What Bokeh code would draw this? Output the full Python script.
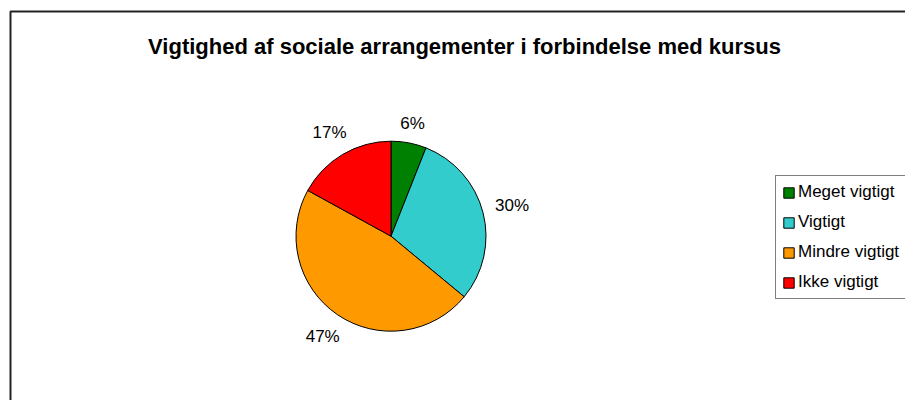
import numpy as np
from bokeh.plotting import figure
from bokeh.models import Legend, LegendItem, ColumnDataSource, Label, BoxAnnotation, Range1d
from bokeh.embed import file_html
from bokeh.resources import INLINE

# ---- data ----
title_text = "Vigtighed af sociale arrangementer i forbindelse med kursus"
categories = ["Meget vigtigt", "Vigtigt", "Mindre vigtigt", "Ikke vigtigt"]
percent = [6, 30, 47, 17]
pct_labels = ["6%", "30%", "47%", "17%"]
colors = ["#008000", "#33CCCC", "#FF9900", "#FF0000"]

FONT = "Liberation Sans"
W, H = 905, 400
p = figure(width=W, height=H, output_backend="svg", toolbar_location=None,
           x_range=Range1d(0, W), y_range=Range1d(0, H), min_border=0, tools="",
           x_axis_location=None, y_axis_location=None)
p.grid.visible = False
p.outline_line_color = None
p.background_fill_color = "white"
p.border_fill_color = "white"

# chart-area border (only the left and top edges fall inside the window)
p.add_layout(BoxAnnotation(left=10, right=W + 60, bottom=-60, top=H - 11,
                           fill_alpha=0, line_color="#222222", line_alpha=1.0,
                           line_width=2))

# pie geometry
cx, cy, r = 390.5, H - 235.7, 95
frac = np.array(percent, dtype=float) / sum(percent)
cum = np.concatenate([[0.0], np.cumsum(frac)])
start = np.pi / 2 - cum[:-1] * 2 * np.pi
end = np.pi / 2 - cum[1:] * 2 * np.pi

src = ColumnDataSource(dict(start=start, end=end, color=colors, cat=categories))
wedges = p.wedge(x=cx, y=cy, radius=r, radius_units="screen", start_angle="start",
                 end_angle="end", direction="clock", fill_color="color",
                 line_color="black", line_width=1, source=src)

# percentage labels outside the pie
fs = 17
mid = (cum[:-1] + cum[1:]) / 2 * 2 * np.pi
ux, uy = np.sin(mid), np.cos(mid)
hw = np.array([0.5 * fs * (0.556 * (len(t) - 1) + 0.889) for t in pct_labels])
hh = 6.0
gap = 12.0
d = r + gap + np.abs(ux) * hw + np.abs(uy) * hh
lsrc = ColumnDataSource(dict(x=cx + d * ux, y=cy + d * uy, t=pct_labels))
p.text(x="x", y="y", text="t", source=lsrc, text_align="center", text_baseline="middle",
       text_font={"value": FONT}, text_font_size=f"{fs}px", text_color="black")

# title
p.add_layout(Label(x=464, y=H - 46, text=title_text, text_align="center",
                   text_baseline="alphabetic", text_font=FONT, text_font_style="bold",
                   text_font_size="22px", text_color="black"))

# legend
legend = Legend(items=[LegendItem(label=c, renderers=[wedges], index=i)
                       for i, c in enumerate(categories)],
                location=(775, H - 299), margin=0, padding=6, spacing=10,
                glyph_width=13, glyph_height=13, label_height=20, label_standoff=3,
                label_text_font=FONT, label_text_font_size="17px", label_text_color="black",
                border_line_color="black", border_line_width=1,
                background_fill_color="white", background_fill_alpha=1.0)
p.add_layout(legend)

open("out.html", "w").write(file_html(p, INLINE))
